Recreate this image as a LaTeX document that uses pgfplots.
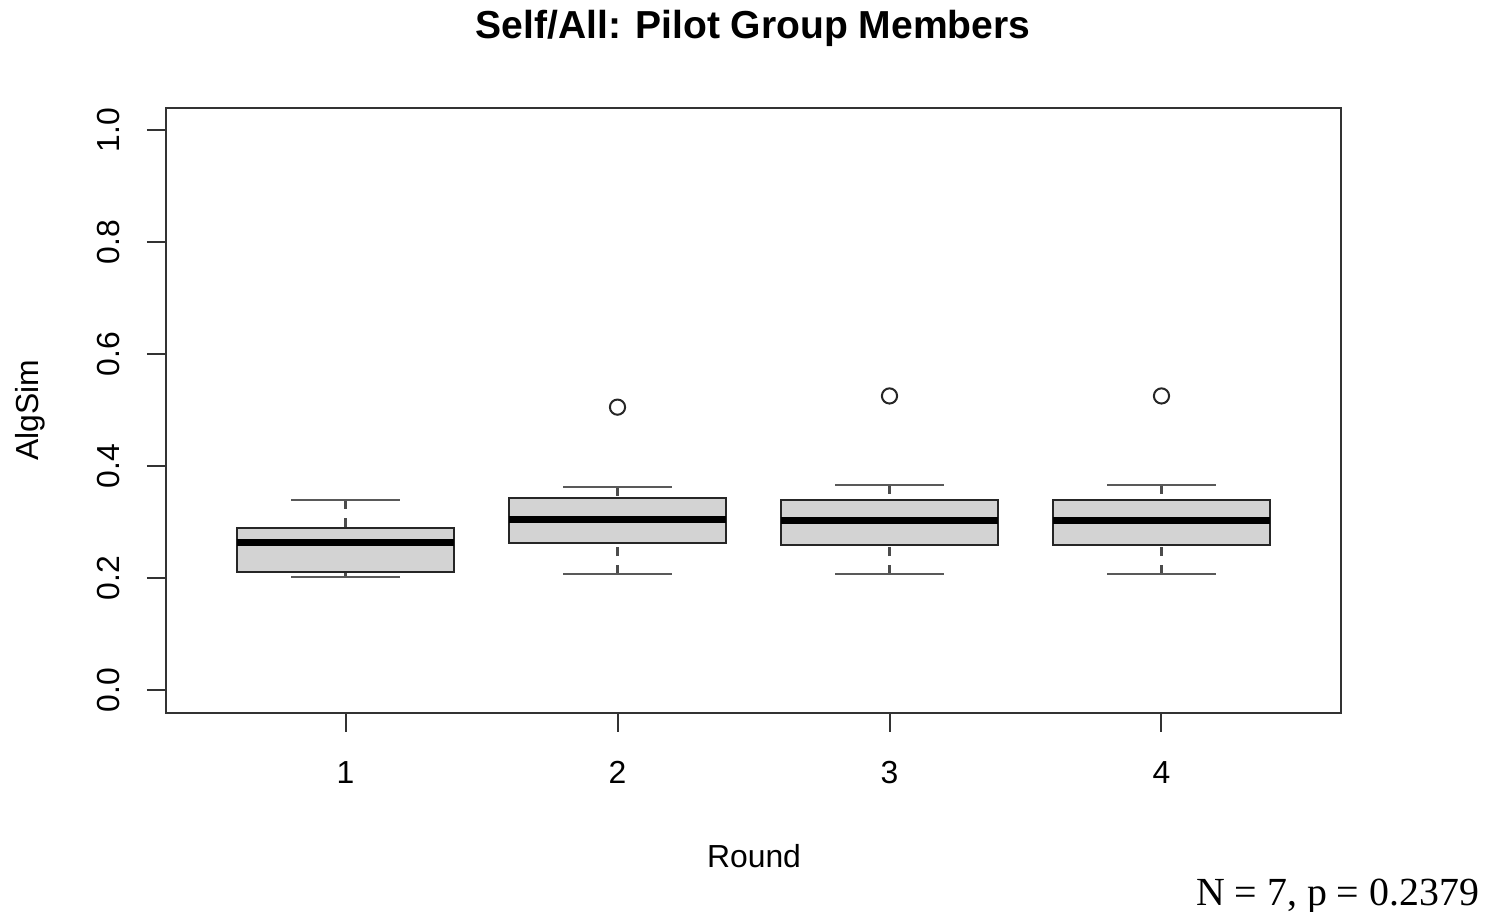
\documentclass[border=0pt]{standalone}
\usepackage{fontspec}
\setmainfont{Liberation Sans}
\newfontfamily\seriffont{Liberation Serif}
\usepackage{pgfplots}
\pgfplotsset{compat=1.18}
\usepgfplotslibrary{statistics}
\definecolor{boxfill}{HTML}{D3D3D3}
\pgfplotsset{
 boxplot/draw/lower whisker/.code={%
   \draw[black!70,line width=1.2bp,dash pattern=on 4.5bp off 4.5bp]
     (boxplot box cs:\pgfplotsboxplotvalue{lower whisker},0.5) --
     (boxplot box cs:\pgfplotsboxplotvalue{lower quartile},0.5);
   \draw[black!65,line width=1.2bp]
     (boxplot whisker cs:\pgfplotsboxplotvalue{lower whisker},0) --
     (boxplot whisker cs:\pgfplotsboxplotvalue{lower whisker},1);
 },
 boxplot/draw/upper whisker/.code={%
   \draw[black!70,line width=1.2bp,dash pattern=on 4.5bp off 4.5bp]
     (boxplot box cs:\pgfplotsboxplotvalue{upper whisker},0.5) --
     (boxplot box cs:\pgfplotsboxplotvalue{upper quartile},0.5);
   \draw[black!65,line width=1.2bp]
     (boxplot whisker cs:\pgfplotsboxplotvalue{upper whisker},0) --
     (boxplot whisker cs:\pgfplotsboxplotvalue{upper whisker},1);
 },
}
\begin{document}
\begin{tikzpicture}
\begin{axis}[
  scale only axis,
  width=587.5bp, height=302.5bp,
  xmin=0.34, xmax=4.66, ymin=-0.041, ymax=1.039,
  xtick={1,2,3,4},
  ytick={0,0.2,0.4,0.6,0.8,1.0},
  yticklabels={0.0,0.2,0.4,0.6,0.8,1.0},
  xtick pos=bottom, ytick pos=left,
  tick align=outside,
  major tick length=9.5bp,
  tick style={black!80, line width=1bp},
  axis line style={black!80, line width=1bp},
  /pgf/number format/assume math mode=true,
  tick label style={font=\fontsize{16}{19}\selectfont},
  yticklabel style={xshift=-13.5bp, rotate=90, anchor=south, inner sep=0pt},
  xticklabel style={anchor=north, inner sep=0pt, yshift=-14.5bp},
  boxplot/draw direction=y,
  boxplot/box extend=0.8,
  boxplot/whisker extend=0.4,
  boxplot/every box/.style={draw=black!85, line width=1bp, fill=boxfill},
  boxplot/every median/.style={draw=black, line width=3.5bp},
]
\addplot[boxplot prepared={draw position=1, lower whisker=0.202, lower quartile=0.211, median=0.2625, upper quartile=0.289, upper whisker=0.339}] coordinates {};
\addplot[boxplot prepared={draw position=2, lower whisker=0.207, lower quartile=0.2625, median=0.305, upper quartile=0.343, upper whisker=0.3625}, mark=*, mark size=3.8bp, mark options={fill=white, draw=black!85, line width=1bp, solid}] table[row sep=\\, y index=0] {0.505\\};
\addplot[boxplot prepared={draw position=3, lower whisker=0.207, lower quartile=0.259, median=0.302, upper quartile=0.339, upper whisker=0.366}, mark=*, mark size=3.8bp, mark options={fill=white, draw=black!85, line width=1bp, solid}] table[row sep=\\, y index=0] {0.525\\};
\addplot[boxplot prepared={draw position=4, lower whisker=0.207, lower quartile=0.259, median=0.302, upper quartile=0.339, upper whisker=0.366}, mark=*, mark size=3.8bp, mark options={fill=white, draw=black!85, line width=1bp, solid}] table[row sep=\\, y index=0] {0.525\\};
\coordinate (O) at (rel axis cs:0,0);
\end{axis}
\node[anchor=base, font=\bfseries\fontsize{19.6}{23}\selectfont, xshift=293.5bp, yshift=337bp] at (O) {Self/All: Pilot Group Members};
\node[anchor=base, font=\fontsize{16}{19}\selectfont, xshift=294bp, yshift=-77bp] at (O) {Round};
\node[xshift=-68bp, yshift=151.5bp, rotate=90, anchor=center, font=\fontsize{16}{19}\selectfont] at (O) {AlgSim};
\node[anchor=base east, font=\seriffont\fontsize{20}{24}\selectfont, xshift=660bp, yshift=-96bp] at (O) {N = 7, p = 0.2379};
\pgfresetboundingbox
\path[use as bounding box] (O) ++(-83bp,-99.5bp) rectangle ++(744bp,456bp);
\end{tikzpicture}
\end{document}
